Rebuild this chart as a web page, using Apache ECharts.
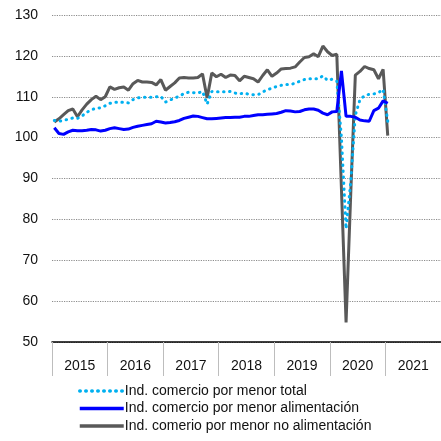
<!DOCTYPE html>
<html>
<head>
<meta charset="utf-8">
<script src="https://cdn.jsdelivr.net/npm/echarts@6/dist/echarts.min.js"></script>
<style>
  html, body { margin: 0; padding: 0; background: #fff; }
  #chart { width: 441px; height: 441px; }
</style>
</head>
<body>
<div id="chart"></div>
<script>
// años del eje y meses (ene 2015 - dic 2021)
const years = ['2015', '2016', '2017', '2018', '2019', '2020', '2021']
const months = []
years.forEach(y => { for (let m = 1; m <= 12; m++) months.push(y + '-' + m) })

// series mensuales, ene 2015 - ene 2021
const total = [
  104.2, 104.0, 104.2, 104.5, 104.8, 104.7, 105.3, 106.2, 106.8, 107.2, 107.3, 107.8,
  108.4, 108.6, 108.7, 108.6, 108.5, 109.3, 109.7, 109.9, 109.9, 109.9, 110.0, 110.1,
  108.7, 109.2, 109.7, 110.1, 110.8, 111.1, 111.0, 110.9, 111.3, 108.2, 111.3, 111.2,
  111.2, 111.2, 111.3, 110.9, 110.7, 110.9, 110.6, 110.5, 110.5, 111.2, 111.7, 112.1,
  112.5, 112.8, 113.0, 113.0, 113.3, 113.8, 114.2, 114.4, 114.4, 114.4, 115.1, 114.0,
  114.3, 113.8, 100.0, 77.7, 89.0, 105.5, 109.3, 110.3, 110.6, 110.7, 111.0, 111.8,
  104.0
]
const alimentacion = [
  102.4, 101.0, 100.8, 101.4, 101.8, 101.7, 101.7, 101.8, 102.0, 101.9, 101.6, 101.8,
  102.2, 102.4, 102.2, 102.0, 102.1, 102.5, 102.8, 103.0, 103.2, 103.4, 104.0, 103.8,
  103.6, 103.7, 103.9, 104.2, 104.7, 105.0, 105.3, 105.2, 104.9, 104.6, 104.6, 104.7,
  104.8, 104.9, 104.9, 105.0, 105.0, 105.2, 105.2, 105.4, 105.6, 105.6, 105.7, 105.8,
  105.9, 106.2, 106.6, 106.5, 106.3, 106.4, 106.8, 107.0, 107.0, 106.7, 106.0, 105.6,
  106.3, 106.4, 116.3, 105.2, 105.2, 105.0, 104.3, 104.1, 104.0, 106.6, 107.2, 109.0,
  108.4
]
const noAlimentacion = [
  103.8, 104.6, 105.6, 106.6, 107.0, 105.1, 106.8, 108.2, 109.3, 110.1, 109.3, 110.0,
  112.4, 111.8, 112.2, 112.4, 111.6, 113.2, 114.0, 113.6, 113.6, 113.5, 112.9, 114.2,
  111.6, 112.5, 113.4, 114.6, 114.7, 114.6, 114.6, 114.7, 115.6, 109.7, 115.8, 114.9,
  115.5, 114.7, 115.3, 115.2, 113.9, 115.0, 114.7, 114.4, 113.6, 115.2, 116.6, 115.0,
  115.8, 116.8, 116.9, 117.0, 117.3, 118.5, 119.6, 119.8, 120.5, 119.8, 122.4, 121.0,
  120.1, 120.4, 87.5, 54.8, 86.0, 115.3, 116.2, 117.4, 116.9, 116.6, 114.4, 116.7,
  100.5
]

let myChart = echarts.init(document.getElementById('chart'))
myChart.setOption({
    animation: false,
    textStyle: { fontFamily: 'Liberation Sans, Arial, sans-serif' },
    grid: [
        { left: 52, right: 0, top: 15, bottom: 99, outerBoundsMode: 'none' },
        // rejilla auxiliar solo para el eje de años
        { left: 52, right: 0, top: 341, bottom: 99, outerBoundsMode: 'none' }
    ],
    legend: {
        orient: 'vertical',
        left: 78,
        top: 384,
        padding: 0,
        itemWidth: 44,
        itemHeight: 14,
        itemGap: 3.5,
        itemStyle: { opacity: 0 },
        lineStyle: { width: 3.5 },
        textStyle: { fontSize: 14, color: '#111', padding: [0, 0, 0, -4] },
        data: ['Ind. comercio por menor total', 'Ind. comercio por menor alimentación', 'Ind. comerio por menor no alimentación']
    },
    xAxis: [
        {
            type: 'category',
            gridIndex: 0,
            data: months,
            axisLine: { lineStyle: { color: '#000', width: 1.5 } },
            axisTick: { interval: 0, length: 6, lineStyle: { color: '#8a8a8a' } },
            axisLabel: { show: false },
            splitLine: { show: false }
        },
        {
            type: 'category',
            gridIndex: 1,
            data: years,
            position: 'bottom',
            axisLine: { show: true, lineStyle: { color: 'rgba(0,0,0,0)' } },
            axisTick: { show: true, interval: 0, length: 34, lineStyle: { color: '#bdbdbd', width: 1 } },
            axisLabel: { interval: 0, margin: 17, fontSize: 14, color: '#111' },
            splitLine: { show: false }
        }
    ],
    yAxis: [
        {
            type: 'value',
            gridIndex: 0,
            min: 50,
            max: 130,
            interval: 10,
            axisLine: { show: false },
            axisTick: { show: false },
            axisLabel: { fontSize: 14, color: '#111', margin: 14 },
            splitLine: { lineStyle: { color: '#8c8c8c', type: 'dotted', width: 1.2 } }
        },
        {
            type: 'value',
            gridIndex: 1,
            show: false
        }
    ],
    series: [
        {
            name: 'Ind. comercio por menor total',
            type: 'line',
            data: total,
            symbol: 'none',
            z: 3,
            lineStyle: { color: '#00B0F0', width: 3, type: [0.5, 5.5], cap: 'round' },
            itemStyle: { color: '#00B0F0' }
        },
        {
            name: 'Ind. comercio por menor alimentación',
            type: 'line',
            data: alimentacion,
            symbol: 'none',
            z: 4,
            lineStyle: { color: '#0000FF', width: 3 },
            itemStyle: { color: '#0000FF' }
        },
        {
            name: 'Ind. comerio por menor no alimentación',
            type: 'line',
            data: noAlimentacion,
            symbol: 'none',
            z: 2,
            lineStyle: { color: '#595959', width: 3 },
            itemStyle: { color: '#595959' }
        }
    ]
})
window.addEventListener('resize', function() {
    myChart.resize()
})
</script>
</body>
</html>
